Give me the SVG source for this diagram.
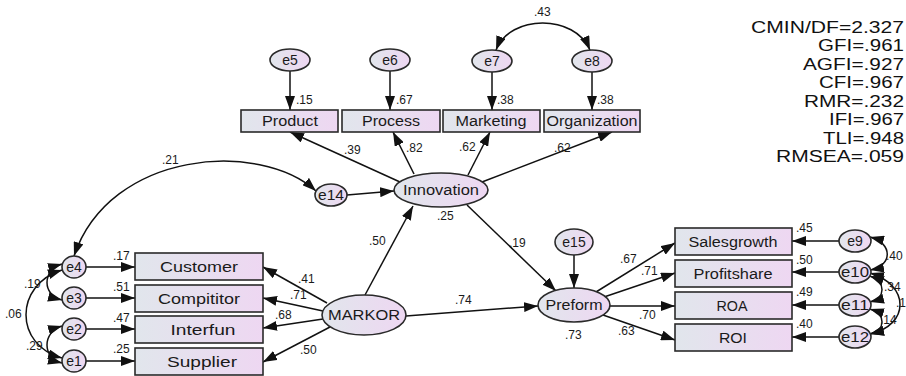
<svg xmlns="http://www.w3.org/2000/svg" width="906" height="376" viewBox="0 0 906 376">
<style>
.bx{fill:url(#g);stroke:#2a2a2a;stroke-width:1.6}
.el{fill:url(#g);stroke:#2a2a2a;stroke-width:1.6}
.lb{font-family:"Liberation Sans",Arial,sans-serif;font-size:14px;fill:#1a1a1a;text-anchor:middle}
.cf{font-family:"Liberation Sans",Arial,sans-serif;font-size:12px;fill:#1a1a1a}
.fit{font-family:"Liberation Sans",Arial,sans-serif;font-size:16px;fill:#111;text-anchor:end}
#conn path,#conn line{fill:none;stroke:#111;stroke-width:1.5}
.ar{marker-end:url(#a)}
.cv{marker-end:url(#a);marker-start:url(#a)}
</style>
<defs>
<linearGradient id="g" x1="0" y1="0" x2="1" y2="0">
<stop offset="0" stop-color="#e1e6ec"/>
<stop offset="1" stop-color="#eed7f2"/>
</linearGradient>
<marker id="a" markerUnits="userSpaceOnUse" markerWidth="14" markerHeight="10" refX="14" refY="5" orient="auto-start-reverse">
<path d="M0,0 L14,5 L0,10 z" fill="#111"/>
</marker>
</defs>
<rect width="906" height="376" fill="#fff"/>

<g id="conn">
<line class="ar" x1="86" y1="267" x2="135" y2="267"/>
<line class="ar" x1="86" y1="298" x2="135" y2="298"/>
<line class="ar" x1="86" y1="329" x2="135" y2="329"/>
<line class="ar" x1="86" y1="361" x2="135" y2="361"/>
<line class="ar" x1="290" y1="71" x2="290" y2="110"/>
<line class="ar" x1="390" y1="71" x2="390" y2="110"/>
<line class="ar" x1="492" y1="72" x2="492" y2="110"/>
<line class="ar" x1="592" y1="72" x2="592" y2="110"/>
<line class="ar" x1="839" y1="241" x2="792" y2="241"/>
<line class="ar" x1="839" y1="272" x2="792" y2="272"/>
<line class="ar" x1="839" y1="305" x2="792" y2="305"/>
<line class="ar" x1="839" y1="337" x2="792" y2="337"/>
<line class="ar" x1="327" y1="303" x2="263" y2="267"/>
<line class="ar" x1="323" y1="311" x2="263" y2="298"/>
<line class="ar" x1="323" y1="319" x2="263" y2="328"/>
<line class="ar" x1="330" y1="327" x2="263" y2="362"/>
<line class="ar" x1="400" y1="182" x2="290" y2="132"/>
<line class="ar" x1="414" y1="174" x2="393" y2="132"/>
<line class="ar" x1="468" y1="175" x2="490" y2="132"/>
<line class="ar" x1="482" y1="182" x2="612" y2="132"/>
<line class="ar" x1="347" y1="195" x2="394" y2="191"/>
<line class="ar" x1="365" y1="295" x2="413" y2="206"/>
<line class="ar" x1="467" y1="205" x2="556" y2="291"/>
<line class="ar" x1="406" y1="316" x2="538" y2="306"/>
<line class="ar" x1="574" y1="255" x2="574" y2="288"/>
<line class="ar" x1="596" y1="292" x2="675" y2="243"/>
<line class="ar" x1="604" y1="297" x2="675" y2="273"/>
<line class="ar" x1="610" y1="306" x2="675" y2="306"/>
<line class="ar" x1="603" y1="315" x2="675" y2="340"/>
<path class="cv" d="M74,256 C110,150 260,140 316,191"/>
<path class="cv" d="M496,50 C510,14 575,14 590,50"/>
<path class="cv" d="M62,264 C42,270 42,295 62,300"/>
<path class="cv" d="M62,270 C14,285 14,345 62,358"/>
<path class="cv" d="M62,326 C42,332 42,358 62,363"/>
<path class="cv" d="M870,237 C893,243 893,266 870,270"/>
<path class="cv" d="M870,276 C886,282 886,298 870,302"/>
<path class="cv" d="M870,273 C910,285 910,325 870,334"/>
<path class="cv" d="M870,309 C886,314 886,330 870,334"/>
</g>

<g id="Customer"><rect class="bx" x="135" y="253" width="128" height="27"/><text class="lb" x="199" y="272" textLength="78" lengthAdjust="spacingAndGlyphs">Customer</text></g>
<g id="Compititor"><rect class="bx" x="135" y="285" width="128" height="27"/><text class="lb" x="199" y="304" textLength="82" lengthAdjust="spacingAndGlyphs">Compititor</text></g>
<g id="Interfun"><rect class="bx" x="135" y="316" width="128" height="27"/><text class="lb" x="203" y="335" textLength="65" lengthAdjust="spacingAndGlyphs">Interfun</text></g>
<g id="Supplier"><rect class="bx" x="135" y="348" width="128" height="27"/><text class="lb" x="202" y="367" textLength="70" lengthAdjust="spacingAndGlyphs">Supplier</text></g>

<g id="Product"><rect class="bx" x="241" y="110" width="97" height="22"/><text class="lb" x="290" y="126" textLength="56" lengthAdjust="spacingAndGlyphs">Product</text></g>
<g id="Process"><rect class="bx" x="342" y="110" width="98" height="22"/><text class="lb" x="391" y="126" textLength="58" lengthAdjust="spacingAndGlyphs">Process</text></g>
<g id="Marketing"><rect class="bx" x="443" y="110" width="97" height="22"/><text class="lb" x="491" y="126" textLength="71" lengthAdjust="spacingAndGlyphs">Marketing</text></g>
<g id="Organization"><rect class="bx" x="544" y="110" width="96" height="22"/><text class="lb" x="592" y="126" textLength="91" lengthAdjust="spacingAndGlyphs">Organization</text></g>

<g id="Salesgrowth"><rect class="bx" x="675" y="228" width="117" height="27"/><text class="lb" x="733" y="247" textLength="89" lengthAdjust="spacingAndGlyphs">Salesgrowth</text></g>
<g id="Profitshare"><rect class="bx" x="675" y="260" width="117" height="27"/><text class="lb" x="733" y="279" textLength="79" lengthAdjust="spacingAndGlyphs">Profitshare</text></g>
<g id="ROA"><rect class="bx" x="675" y="292" width="117" height="27"/><text class="lb" x="732" y="311" textLength="31" lengthAdjust="spacingAndGlyphs">ROA</text></g>
<g id="ROI"><rect class="bx" x="675" y="324" width="117" height="27"/><text class="lb" x="733" y="343" textLength="28" lengthAdjust="spacingAndGlyphs">ROI</text></g>

<g id="MARKOR"><ellipse class="el" cx="364" cy="315" rx="42" ry="20"/><text class="lb" x="364" y="320" textLength="72" lengthAdjust="spacingAndGlyphs">MARKOR</text></g>
<g id="Innovation"><ellipse class="el" cx="441" cy="190" rx="47" ry="17"/><text class="lb" x="441" y="195" textLength="76" lengthAdjust="spacingAndGlyphs">Innovation</text></g>
<g id="Preform"><ellipse class="el" cx="574" cy="305" rx="36" ry="17"/><text class="lb" x="574" y="310" textLength="57" lengthAdjust="spacingAndGlyphs">Preform</text></g>

<g id="e1"><ellipse class="el" cx="74" cy="361" rx="12" ry="11"/><text class="lb" x="74" y="366">e1</text></g>
<g id="e2"><ellipse class="el" cx="74" cy="329" rx="12" ry="11"/><text class="lb" x="74" y="334">e2</text></g>
<g id="e3"><ellipse class="el" cx="74" cy="298" rx="12" ry="11"/><text class="lb" x="74" y="303">e3</text></g>
<g id="e4"><ellipse class="el" cx="74" cy="267" rx="12" ry="11"/><text class="lb" x="74" y="272">e4</text></g>
<g id="e5"><ellipse class="el" cx="290" cy="60" rx="20" ry="11"/><text class="lb" x="290" y="65">e5</text></g>
<g id="e6"><ellipse class="el" cx="390" cy="60" rx="20" ry="11"/><text class="lb" x="390" y="65">e6</text></g>
<g id="e7"><ellipse class="el" cx="492" cy="61" rx="20" ry="11"/><text class="lb" x="492" y="66">e7</text></g>
<g id="e8"><ellipse class="el" cx="592" cy="61" rx="20" ry="11"/><text class="lb" x="592" y="66">e8</text></g>
<g id="e9"><ellipse class="el" cx="855" cy="241" rx="16" ry="11"/><text class="lb" x="855" y="246">e9</text></g>
<g id="e10"><ellipse class="el" cx="855" cy="272" rx="16" ry="11"/><text class="lb" x="855" y="277" textLength="28" lengthAdjust="spacingAndGlyphs">e10</text></g>
<g id="e11"><ellipse class="el" cx="855" cy="305" rx="16" ry="11"/><text class="lb" x="855" y="310" textLength="28" lengthAdjust="spacingAndGlyphs">e11</text></g>
<g id="e12"><ellipse class="el" cx="855" cy="337" rx="16" ry="11"/><text class="lb" x="855" y="342" textLength="28" lengthAdjust="spacingAndGlyphs">e12</text></g>
<g id="e14"><ellipse class="el" cx="331" cy="195" rx="16" ry="11"/><text class="lb" x="331" y="200" textLength="26" lengthAdjust="spacingAndGlyphs">e14</text></g>
<g id="e15"><ellipse class="el" cx="574" cy="242" rx="19" ry="13"/><text class="lb" x="574" y="247">e15</text></g>

<g id="coefs">
<text class="cf" x="113" y="260">.17</text>
<text class="cf" x="113" y="291">.51</text>
<text class="cf" x="113" y="322">.47</text>
<text class="cf" x="113" y="353">.25</text>
<text class="cf" x="24" y="288">.19</text>
<text class="cf" x="5" y="318">.06</text>
<text class="cf" x="26" y="350">.29</text>
<text class="cf" x="298" y="283">.41</text>
<text class="cf" x="290" y="299">.71</text>
<text class="cf" x="275" y="319">.68</text>
<text class="cf" x="300" y="354">.50</text>
<text class="cf" x="455" y="304">.74</text>
<text class="cf" x="369" y="245">.50</text>
<text class="cf" x="509" y="247">.19</text>
<text class="cf" x="437" y="220">.25</text>
<text class="cf" x="565" y="339">.73</text>
<text class="cf" x="620" y="263">.67</text>
<text class="cf" x="641" y="275">.71</text>
<text class="cf" x="639" y="319">.70</text>
<text class="cf" x="618" y="335">.63</text>
<text class="cf" x="796" y="232">.45</text>
<text class="cf" x="796" y="264">.50</text>
<text class="cf" x="796" y="296">.49</text>
<text class="cf" x="796" y="328">.40</text>
<text class="cf" x="886" y="260">.40</text>
<text class="cf" x="884" y="291">.34</text>
<text class="cf" x="896" y="307">.1</text>
<text class="cf" x="880" y="324">.14</text>
<text class="cf" x="344" y="154">.39</text>
<text class="cf" x="406" y="152">.82</text>
<text class="cf" x="459" y="151">.62</text>
<text class="cf" x="554" y="152">.62</text>
<text class="cf" x="296" y="104">.15</text>
<text class="cf" x="396" y="104">.67</text>
<text class="cf" x="497" y="104">.38</text>
<text class="cf" x="597" y="104">.38</text>
<text class="cf" x="162" y="164">.21</text>
<text class="cf" x="534" y="16">.43</text>
</g>

<g id="fit">
<text class="fit" x="904" y="33" textLength="153" lengthAdjust="spacingAndGlyphs">CMIN/DF=2.327</text>
<text class="fit" x="904" y="51" textLength="86" lengthAdjust="spacingAndGlyphs">GFI=.961</text>
<text class="fit" x="904" y="70" textLength="101" lengthAdjust="spacingAndGlyphs">AGFI=.927</text>
<text class="fit" x="904" y="88" textLength="85" lengthAdjust="spacingAndGlyphs">CFI=.967</text>
<text class="fit" x="904" y="107" textLength="100" lengthAdjust="spacingAndGlyphs">RMR=.232</text>
<text class="fit" x="904" y="125" textLength="75" lengthAdjust="spacingAndGlyphs">IFI=.967</text>
<text class="fit" x="904" y="144" textLength="81" lengthAdjust="spacingAndGlyphs">TLI=.948</text>
<text class="fit" x="904" y="162" textLength="128" lengthAdjust="spacingAndGlyphs">RMSEA=.059</text>
</g>
</svg>
